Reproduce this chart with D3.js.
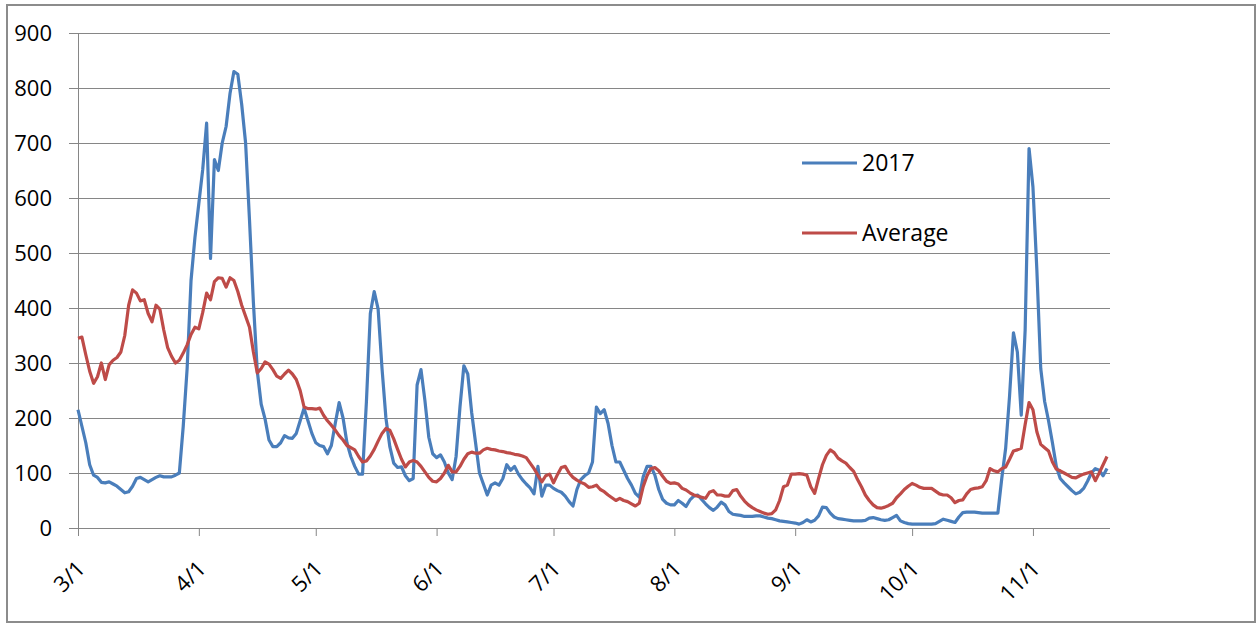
<!DOCTYPE html>
<html>
<head>
<meta charset="utf-8">
<script src="https://cdn.jsdelivr.net/npm/d3@7"></script>
<style>
    html, body { margin: 0; padding: 0; background: #fff; }
    text { font-family: "Open Sans", sans-serif; fill: #000; }
</style>
</head>
<body>
<div id="chart"></div>
<script>
// daily values from 3/1 to 11/20, one array per month
var y2017_mar = [215, 185, 155, 115, 96, 92, 83, 82, 84, 80, 76, 70, 64, 66, 76, 90, 92, 88, 84, 88, 92, 95, 93, 93, 93, 96, 100, 185, 290, 450, 528];
var y2017_apr = [590, 652, 736, 490, 670, 650, 700, 730, 790, 830, 825, 770, 700, 560, 410, 285, 225, 198, 160, 148, 148, 155, 168, 164, 163, 172, 195, 218, 195, 172];
var y2017_may = [155, 150, 148, 135, 150, 190, 228, 200, 155, 130, 112, 98, 98, 230, 390, 430, 398, 290, 200, 148, 118, 110, 111, 95, 86, 90, 260, 288, 232, 165, 135];
var y2017_jun = [128, 133, 120, 100, 88, 130, 220, 295, 280, 210, 155, 100, 80, 60, 78, 82, 78, 90, 115, 105, 112, 98, 88, 80, 73, 62, 112, 58, 78, 78];
var y2017_jul = [72, 68, 65, 58, 48, 40, 70, 88, 95, 100, 120, 220, 208, 215, 190, 150, 120, 120, 105, 90, 78, 63, 56, 93, 112, 112, 96, 70, 52, 45, 42];
var y2017_aug = [42, 50, 45, 39, 51, 58, 60, 52, 44, 37, 32, 38, 47, 42, 30, 25, 24, 23, 21, 21, 21, 22, 22, 20, 18, 17, 15, 13, 12, 11, 10];
var y2017_sep = [9, 7, 10, 15, 11, 14, 22, 38, 37, 27, 20, 17, 16, 15, 14, 13, 13, 13, 14, 18, 19, 17, 15, 14, 15, 19, 23, 13, 10, 8];
var y2017_oct = [7, 7, 7, 7, 7, 7, 8, 12, 16, 14, 12, 10, 20, 28, 29, 29, 29, 28, 27, 27, 27, 27, 27, 90, 145, 240, 355, 320, 205, 360, 690];
var y2017_nov = [620, 470, 290, 230, 195, 155, 112, 90, 82, 75, 68, 62, 65, 72, 85, 100, 108, 105, 95, 108];

var avg_mar = [345, 347, 315, 285, 263, 275, 300, 270, 297, 305, 310, 320, 350, 405, 433, 427, 413, 415, 390, 375, 405, 398, 360, 328, 312, 300, 305, 318, 333, 352, 365];
var avg_apr = [362, 392, 427, 415, 448, 455, 454, 438, 455, 450, 430, 405, 385, 365, 320, 282, 290, 302, 298, 288, 276, 272, 280, 287, 280, 270, 250, 220, 217, 217];
var avg_may = [216, 218, 205, 195, 187, 178, 168, 160, 150, 146, 142, 130, 120, 122, 131, 143, 158, 172, 181, 178, 162, 143, 125, 111, 120, 123, 120, 112, 102, 92, 85];
var avg_jun = [84, 90, 100, 114, 102, 102, 112, 125, 135, 138, 136, 136, 142, 145, 143, 142, 140, 139, 137, 136, 134, 133, 131, 128, 118, 108, 96, 84, 95, 98];
var avg_jul = [82, 97, 110, 112, 100, 92, 87, 83, 80, 74, 75, 78, 70, 66, 60, 55, 50, 54, 50, 48, 44, 40, 45, 75, 95, 108, 110, 104, 94, 85, 81];
var avg_aug = [82, 80, 72, 69, 64, 60, 58, 56, 54, 65, 68, 60, 60, 58, 58, 68, 70, 58, 49, 42, 37, 33, 30, 27, 25, 26, 33, 50, 75, 78, 98];
var avg_sep = [98, 99, 98, 96, 75, 63, 90, 115, 132, 142, 137, 127, 122, 118, 110, 103, 88, 75, 60, 50, 42, 37, 36, 38, 41, 45, 55, 62, 70, 76];
var avg_oct = [81, 78, 74, 72, 72, 72, 67, 62, 60, 60, 55, 46, 50, 51, 62, 70, 72, 73, 75, 86, 108, 104, 102, 108, 111, 125, 140, 142, 145, 188, 228];
var avg_nov = [215, 175, 152, 146, 140, 120, 107, 104, 100, 96, 92, 91, 95, 98, 100, 102, 86, 100, 115, 130];

var series_names = ["2017", "Average"];
var y_ticks = [0, 100, 200, 300, 400, 500, 600, 700, 800, 900];
var month_ticks = ["3/1", "4/1", "5/1", "6/1", "7/1", "8/1", "9/1", "10/1", "11/1"];

var first_day = new Date(2017, 2, 1), last_day = new Date(2017, 10, 20);
var days = d3.timeDay.range(first_day, d3.timeDay.offset(last_day, 1));

var values_2017 = [].concat(y2017_mar, y2017_apr, y2017_may, y2017_jun, y2017_jul, y2017_aug, y2017_sep, y2017_oct, y2017_nov);
var values_avg = [].concat(avg_mar, avg_apr, avg_may, avg_jun, avg_jul, avg_aug, avg_sep, avg_oct, avg_nov);

var series = [
    { name: series_names[0], color: "#4a7ebb", values: values_2017 },
    { name: series_names[1], color: "#be4b48", values: values_avg }
];

// svg set up
var w = 1257, h = 624;
var plot = { left: 78, right: 1107, top: 33, bottom: 528, gridEnd: 1110 };

var svg = d3.select("#chart")
    .append("svg")
    .attr("width", w)
    .attr("height", h);

// outer frame
svg.append("rect")
    .attr("x", 7)
    .attr("y", 5)
    .attr("width", 1248)
    .attr("height", 617)
    .attr("fill", "#fff")
    .attr("stroke", "#8c8c8c")
    .attr("stroke-width", 2);

var x = d3.scaleTime()
    .domain([first_day, last_day])
    .range([plot.left, plot.right]);

var y = d3.scaleLinear()
    .domain([0, 900])
    .range([plot.bottom, plot.top]);

// horizontal gridlines + y axis
var yAxis = d3.axisLeft(y)
    .tickValues(y_ticks)
    .tickSize(9)
    .tickPadding(17);

var gy = svg.append("g")
    .attr("transform", `translate(${plot.left}, 0)`)
    .call(yAxis);

gy.select(".domain").attr("stroke", "#868686");
gy.selectAll(".tick line").attr("stroke", "#868686");
gy.selectAll(".tick text")
    .style("font-size", "22px")
    .style("font-family", "'Open Sans', sans-serif")
    .attr("fill", "#000");

svg.append("g")
    .selectAll("line")
    .data(y_ticks.filter(d => d > 0))
    .enter()
    .append("line")
    .attr("x1", plot.left)
    .attr("x2", plot.gridEnd)
    .attr("y1", d => Math.round(y(d)) + 0.5)
    .attr("y2", d => Math.round(y(d)) + 0.5)
    .attr("stroke", "#868686")
    .attr("stroke-width", 1);

// x axis with month ticks
var parser = d3.timeParse("%m/%d/%Y");
var tick_dates = month_ticks.map(d => parser(d + "/2017"));

var xAxis = d3.axisBottom(x)
    .tickValues(tick_dates)
    .tickSize(8)
    .tickFormat((d, i) => month_ticks[i]);

var gx = svg.append("g")
    .attr("transform", `translate(0, ${plot.bottom})`)
    .call(xAxis);

gx.select(".domain").remove();
gx.append("line")
    .attr("x1", plot.left)
    .attr("x2", plot.gridEnd)
    .attr("y1", 0.5)
    .attr("y2", 0.5)
    .attr("stroke", "#868686");
gx.selectAll(".tick line").attr("stroke", "#868686");
gx.selectAll(".tick text")
    .style("font-size", "22px")
    .style("font-family", "'Open Sans', sans-serif")
    .attr("fill", "#000")
    .attr("text-anchor", "end")
    .attr("y", 0)
    .attr("dy", 0)
    .attr("transform", "translate(8, 42) rotate(-45)");

// the two lines
var line = d3.line()
    .x((d, i) => x(days[i]))
    .y(d => y(d));

svg.append("g")
    .selectAll("path")
    .data(series)
    .enter()
    .append("path")
    .attr("fill", "none")
    .attr("stroke", d => d.color)
    .attr("stroke-width", 3.2)
    .attr("stroke-linejoin", "round")
    .attr("d", d => line(d.values));

// legend
var legend = svg.append("g")
    .selectAll("g")
    .data(series)
    .enter()
    .append("g")
    .attr("transform", (d, i) => `translate(802, ${163 + i * 70})`);

legend.append("line")
    .attr("x1", 0)
    .attr("x2", 55)
    .attr("stroke", d => d.color)
    .attr("stroke-width", 3.2);

legend.append("text")
    .attr("x", 60)
    .attr("dy", "0.35em")
    .style("font-size", "23px")
    .text(d => d.name);
</script>
</body>
</html>
